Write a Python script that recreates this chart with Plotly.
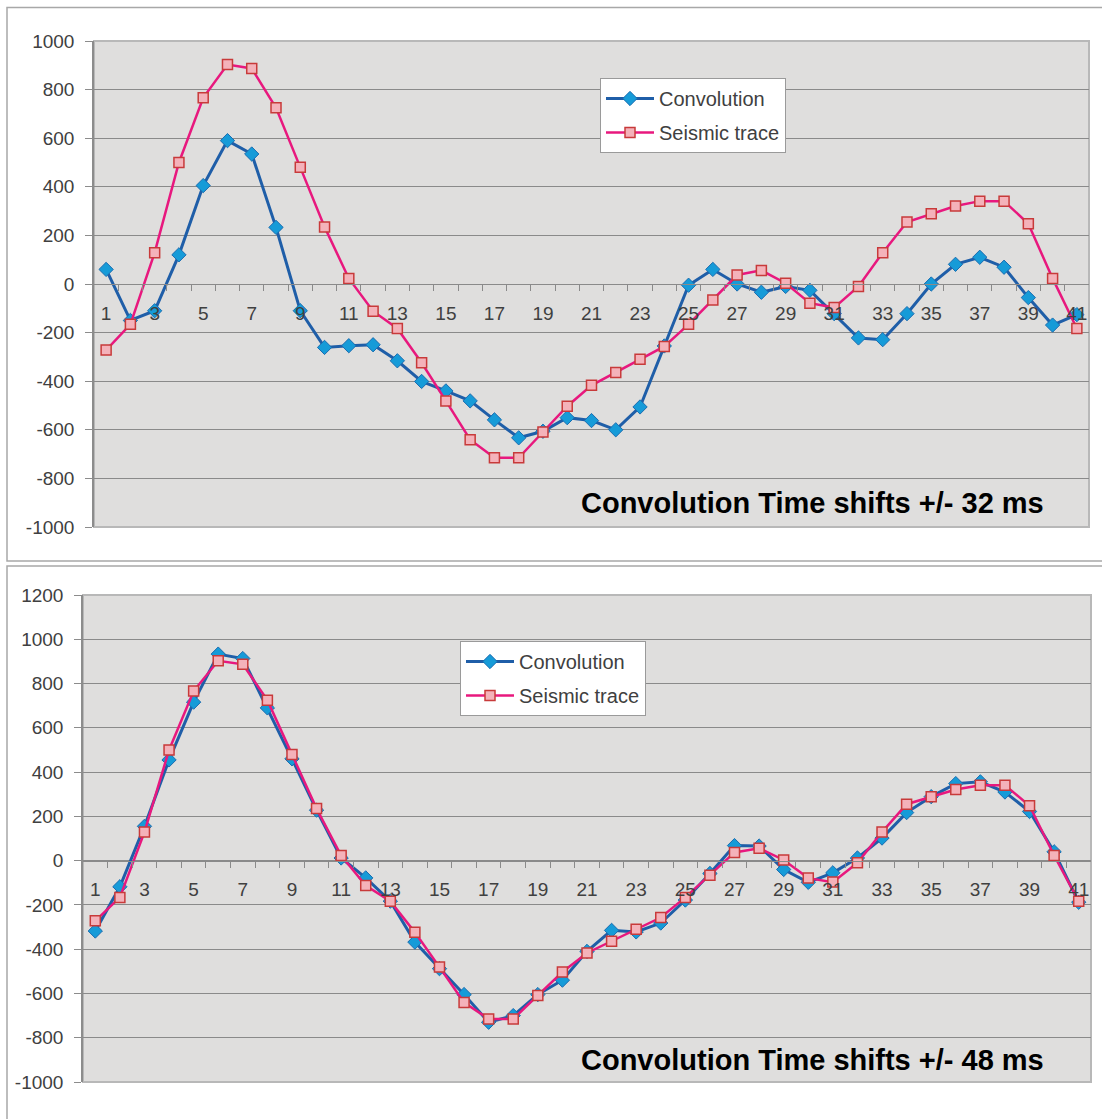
import plotly.graph_objects as go

W, H = 1102, 1119

categories = list(range(1, 42))
tick_labels = [str(i) for i in range(1, 42, 2)]

y_ticks_1 = [-1000, -800, -600, -400, -200, 0, 200, 400, 600, 800, 1000]
y_ticks_2 = [-1000, -800, -600, -400, -200, 0, 200, 400, 600, 800, 1000, 1200]

conv_32 = [60, -150, -110, 120, 405, 590, 535, 233, -110, -261,
           -254, -250, -316, -401, -440, -481, -559, -633, -606, -550,
           -562, -600, -506, -255, -5, 60, 0, -34, -10, -26,
           -122, -222, -229, -122, 0, 81, 110, 69, -56, -169, -126]

seismic_32 = [-272, -166, 129, 500, 766, 903, 887, 725, 480, 235,
              23, -112, -183, -324, -481, -641, -715, -715, -609, -503,
              -417, -364, -310, -257, -166, -66, 37, 56, 3, -79,
              -97, -10, 129, 255, 289, 321, 341, 341, 248, 23, -183]

conv_48 = [-318, -118, 155, 455, 716, 933, 913, 690, 460, 228,
           12, -78, -183, -368, -488, -605, -730, -700, -605, -540,
           -410, -315, -322, -282, -178, -58, 68, 66, -40, -98,
           -55, 12, 102, 217, 289, 348, 356, 310, 222, 40, -188]

seismic_48 = seismic_32

title_32 = "Convolution Time shifts +/- 32 ms"
title_48 = "Convolution Time shifts +/- 48 ms"

FONT = "Arial, Liberation Sans, sans-serif"
BLUE_LINE = "#1f5ea8"
BLUE_FILL = "#169bd8"
PINK_LINE = "#e8187e"
PINK_FILL = "#f4b2ba"
PINK_EDGE = "#c83a3a"
GRID = "#8a8a8a"
TXT = "#404040"


def px_x(p):
    return p / W


def px_y(p):
    return 1 - p / H


# plot-area pixel boxes (left, top, right, bottom)
box1 = (94, 41, 1089, 527)
box2 = (83, 595, 1091, 1082)
rng1 = (-1000, 1000)
rng2 = (-1000, 1200)


def zero_pos(box, rng):
    l, t, r, b = box
    lo, hi = rng
    zp = t + (hi - 0) / (hi - lo) * (b - t)
    return px_y(zp)


fig = go.Figure()

for xa, ya, conv, seis, leg in [("x", "y", conv_32, seismic_32, "legend"),
                                ("x2", "y2", conv_48, seismic_48, "legend2")]:
    fig.add_trace(go.Scatter(
        x=categories, y=conv, name="Convolution", mode="lines+markers",
        xaxis=xa, yaxis=ya, legend=leg, legendgroup=leg + "a",
        line=dict(color=BLUE_LINE, width=3),
        marker=dict(symbol="diamond", size=11, color=BLUE_FILL,
                    line=dict(color="#1a6cb0", width=1)),
    ))
    fig.add_trace(go.Scatter(
        x=categories, y=seis, name="Seismic trace", mode="lines+markers",
        xaxis=xa, yaxis=ya, legend=leg, legendgroup=leg + "b",
        line=dict(color=PINK_LINE, width=2.5),
        marker=dict(symbol="square", size=10, color=PINK_FILL,
                    line=dict(color=PINK_EDGE, width=1.5)),
    ))

minor_vals = [i + 0.5 for i in range(1, 41)]


def xaxis_cfg(box, rng):
    l, t, r, b = box
    return dict(
        domain=[px_x(l), px_x(r)], range=[0.5, 41.5], anchor="free",
        position=zero_pos(box, rng), automargin=False,
        tickmode="array", tickvals=list(range(1, 42, 2)), ticktext=tick_labels,
        ticks="", showgrid=False, zeroline=False,
        showline=True, linecolor=GRID, linewidth=1,
        tickfont=dict(family=FONT, size=19, color=TXT),
        ticklabelstandoff=12,
        minor=dict(tickvals=minor_vals, ticks="outside", ticklen=6,
                   tickcolor=GRID, tickwidth=1, showgrid=False),
    )


def yaxis_cfg(box, rng, xa, ticks):
    l, t, r, b = box
    return dict(
        domain=[px_y(b), px_y(t)], range=list(rng), anchor=xa,
        automargin=False,
        tickmode="array", tickvals=ticks, ticktext=[str(v) for v in ticks],
        showgrid=True, gridcolor=GRID, gridwidth=1, zeroline=False,
        showline=True, linecolor="#8c8c8c", linewidth=1.5,
        ticks="outside", ticklen=7, tickcolor="#8c8c8c",
        ticklabelstandoff=7,
        tickfont=dict(family=FONT, size=19, color=TXT),
    )


legend_common = dict(
    bgcolor="white", bordercolor="#9a9a9a", borderwidth=1,
    font=dict(family=FONT, size=20, color=TXT),
    xanchor="left", yanchor="top", itemwidth=48,
    tracegroupgap=5, orientation="v",
)

shapes = []
for box in (box1, box2):
    l, t, r, b = box
    shapes.append(dict(type="rect", xref="paper", yref="paper",
                       x0=px_x(l), x1=px_x(r), y0=px_y(b), y1=px_y(t),
                       line=dict(color="#b8b8b8", width=2), layer="below"))
shapes.append(dict(type="rect", xref="paper", yref="paper",
                   x0=px_x(7), x1=px_x(1110), y0=px_y(561), y1=px_y(7.5),
                   line=dict(color="#a8a8a8", width=1.5)))
shapes.append(dict(type="rect", xref="paper", yref="paper",
                   x0=px_x(7), x1=px_x(1110), y0=px_y(1130), y1=px_y(566),
                   line=dict(color="#a8a8a8", width=1.5)))

annotations = [
    dict(text=title_32, xref="paper", yref="paper", x=px_x(1046), y=px_y(503),
         xanchor="right", yanchor="middle", showarrow=False,
         font=dict(family=FONT, size=29, color="black", weight="bold")),
    dict(text=title_48, xref="paper", yref="paper", x=px_x(1046), y=px_y(1060),
         xanchor="right", yanchor="middle", showarrow=False,
         font=dict(family=FONT, size=29, color="black", weight="bold")),
]

fig.update_layout(
    width=W, height=H, margin=dict(l=0, r=0, t=0, b=0, autoexpand=False),
    paper_bgcolor="white", plot_bgcolor="#dfdedd",
    showlegend=True,
    xaxis=xaxis_cfg(box1, rng1), yaxis=yaxis_cfg(box1, rng1, "x", y_ticks_1),
    xaxis2=xaxis_cfg(box2, rng2), yaxis2=yaxis_cfg(box2, rng2, "x2", y_ticks_2),
    legend=dict(x=px_x(600), y=px_y(78), **legend_common),
    legend2=dict(x=px_x(460), y=px_y(641), **legend_common),
    shapes=shapes, annotations=annotations,
)

fig.write_html("out.html")
